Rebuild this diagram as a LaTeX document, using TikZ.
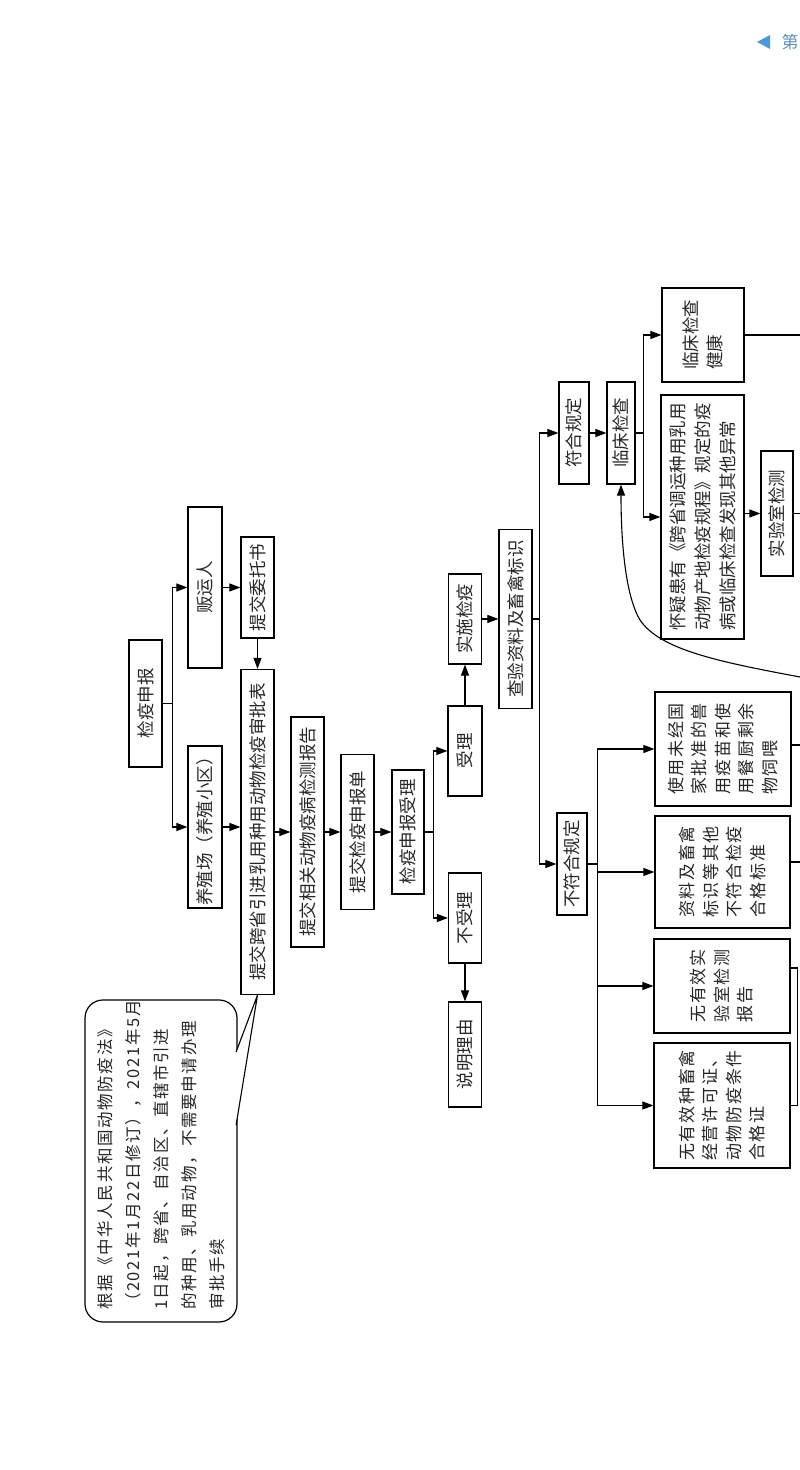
\documentclass[tikz,border=0pt]{standalone}
\usepackage{fontspec}
\usepackage{tikz}
\usetikzlibrary{positioning,arrows.meta}

\newfontfamily\cjk{Noto Sans CJK SC}
\newfontfamily\cjkwide[LetterSpace=10]{Noto Sans CJK SC}
\definecolor{pageblue}{HTML}{4A9AD8}

\begin{document}
\begin{tikzpicture}[
  x=1pt, y=1pt, rotate=90, transform shape,
  font=\cjk\fontsize{17.5}{24}\selectfont,
  every node/.style={align=left, text=black!85},
  proc/.style ={rectangle, draw=black, line width=1.2pt,
                minimum height=33pt, inner sep=2pt},
  multi/.style={proc, font=\cjkwide\fontsize{17}{23.5}\selectfont},
  note/.style ={rectangle, rounded corners=18pt, draw=black, line width=1.2pt,
                fill=white, inner sep=2pt,
                font=\cjkwide\fontsize{16.5}{28}\selectfont},
  edge/.style ={draw=black, line width=1.1pt},
  arr/.style  ={edge, -{Triangle[length=11pt,width=8pt]}},
]
\useasboundingbox (0,0) rectangle (1470,-800);

% --- Stufe 1: Anmeldung ---
\node[proc, minimum width=127pt] (shenbao) at (766.5,-145.5) {检疫申报};

% --- Stufe 2 ---
\node[proc, minimum width=161pt, minimum height=34pt] (fanyun)  at (882.5,-205) {贩运人};
\node[proc, minimum width=162pt, minimum height=34pt] (yangzhi) at (643,-205)   {养殖场（养殖小区）};

% --- Stufe 3: Unterlagen ---
\node[proc, minimum width=101pt] (weituo)     at (882.5,-257.5) {提交委托书};
\node[proc, minimum width=325pt] (shenpi)     at (638,-257.5)   {提交跨省引进乳用种用动物检疫审批表};
\node[proc, minimum width=230pt] (jiance)     at (638,-307.5)   {提交相关动物疫病检测报告};
\node[proc, minimum width=155pt] (shenbaodan) at (638,-357.5)   {提交检疫申报单};
\node[proc, minimum width=124pt, minimum height=32pt] (shenbaoshouli) at (638,-408) {检疫申报受理};

% --- Stufe 4: Annahme ---
\node[proc, minimum width=90pt, minimum height=34pt] (shouli)   at (719,-465)   {受理};
\node[proc, minimum width=90pt]  (bushouli) at (552,-465)   {不受理};
\node[proc, minimum width=105pt] (liyou)    at (415.5,-465) {说明理由};
\node[proc, minimum width=90pt]  (shishi)   at (851,-465)   {实施检疫};
\node[proc, minimum width=179pt] (chayan)   at (851,-515.5) {查验资料及畜禽标识};

% --- Stufe 5: Ergebnis ---
\node[proc, minimum width=102pt, minimum height=30pt] (fuhe)      at (1037,-574) {符合规定};
\node[proc, minimum width=102pt, minimum height=28pt] (linchuang) at (1037,-621) {临床检查};
\node[proc, minimum width=102pt, minimum height=30pt] (bufuhe)    at (606,-572)  {不符合规定};

% --- Stufe 6: klinische Untersuchung ---
\node[proc, minimum width=94pt, minimum height=82pt]  (jiankang) at (1135,-703) {临床检查\\健康};
\node[proc, minimum width=244pt, minimum height=83pt, font=\cjk\fontsize{17.5}{25}\selectfont] (huaiyi) at (953,-702.5)
  {怀疑患有《跨省调运种用乳用\\动物产地检疫规程》规定的疫\\病或临床检查发现其他异常};
\node[proc, minimum width=125pt, minimum height=32pt] (shiyan) at (956.5,-777) {实验室检测};

% --- Stufe 6: Mängel ---
\node[multi, minimum width=114pt, minimum height=136pt] (weijing)  at (721,-723)
  {使用未经国\\家批准的兽\\用疫苗和使\\用餐厨剩余\\物饲喂};
\node[multi, minimum width=112pt, minimum height=135pt] (biaozhun) at (598,-722.5)
  {资料及畜禽\\标识等其他\\不符合检疫\\合格标准};
\node[multi, minimum width=94pt, minimum height=136pt]  (baogao)   at (484,-722)
  {无有效实\\验室检测\\报告};
\node[multi, minimum width=125pt, minimum height=136pt] (xuke)     at (364.5,-722)
  {无有效种畜禽\\经营许可证、\\动物防疫条件\\合格证};

% --- Hinweis ---
\node[note, minimum width=322pt, minimum height=152pt, text width=298pt] (shuoming) at (309,-161)
  {根据《中华人民共和国动物防疫法》\\（2021年1月22日修订），2021年5月\\1日起，跨省、自治区、直辖市引进\\的种用、乳用动物，不需要申请办理\\审批手续};
\draw[edge, fill=white] ([xshift=36pt,yshift=1.5pt]shuoming.south) -- (shenpi.west)
  -- ([xshift=109pt,yshift=1.5pt]shuoming.south);

% --- Verbindungen ---
\draw[arr] (shenbao.south) -- ++(0,-10) -| (fanyun.north);
\draw[arr] (shenbao.south) -- ++(0,-10) -| (yangzhi.north);
\draw[arr] (fanyun.south) -- (weituo.north);
\draw[arr] (yangzhi.south) -- (yangzhi.south |- shenpi.north);
\draw[arr] (weituo.west) -- (shenpi.east);
\draw[arr] (shenpi.south) -- (jiance.north);
\draw[arr] (jiance.south) -- (shenbaodan.north);
\draw[arr] (shenbaodan.south) -- (shenbaoshouli.north);

\draw[arr] (shenbaoshouli.south) -- ++(0,-9) -| (shouli.north);
\draw[arr] (shenbaoshouli.south) -- ++(0,-9) -| (bushouli.north);
\draw[arr] (bushouli.west) -- (liyou.east);
\draw[arr] (shouli.east) -- (shishi.west);
\draw[arr] (shishi.south) -- (chayan.north);

\draw[arr] (chayan.south) -- ++(0,-7) -| (fuhe.north);
\draw[arr] (chayan.south) -- ++(0,-7) -| (bufuhe.north);
\draw[arr] (fuhe.south) -- (linchuang.north);

\draw[arr] (linchuang.south) -- ++(0,-8) -| (jiankang.north);
\draw[arr] (linchuang.south) -- ++(0,-8) -| (huaiyi.north);
\draw[arr] (huaiyi.south -| shiyan.north) -- (shiyan.north);

\draw[arr] (bufuhe.south) -- ++(0,-10) -| (weijing.north);
\draw[arr] (bufuhe.south) -- ++(0,-10) -| (biaozhun.north);
\draw[arr] (bufuhe.south) -- ++(0,-10) -| (baogao.north);
\draw[arr] (bufuhe.south) -- ++(0,-10) -| (xuke.north);

% --- Rückführung und Anschlüsse am Rand ---
\coordinate (rueck) at (793,-800);
\coordinate (rand)  at (0,-800);
\draw[arr] (rueck) .. controls (808,-720) and (820,-660) .. (850,-640)
  .. controls (875,-625) and (930,-621) .. (linchuang.west);
\draw[edge] (jiankang.south) -- (jiankang.south |- rand);
\draw[edge] (shiyan.south) -- (shiyan.south |- rand);
\draw[edge] ([xshift=4pt]weijing.south) -- ([xshift=4pt]weijing.south |- rand);
\draw[edge] ([xshift=10pt]biaozhun.south) -- ([xshift=10pt]biaozhun.south |- rand);
\draw[edge] ([xshift=18pt]baogao.south) -- ++(0,-7) -| (xuke.south);

% --- Kopfzeile ---
\fill[pageblue] (1428,-757) -- (1435,-770) -- (1421,-770) -- cycle;
\node[rotate=-90, text=pageblue!60!gray, font=\cjk\fontsize{17}{17}\selectfont] (kopf) at (1428,-790) {第};

\end{tikzpicture}
\end{document}
